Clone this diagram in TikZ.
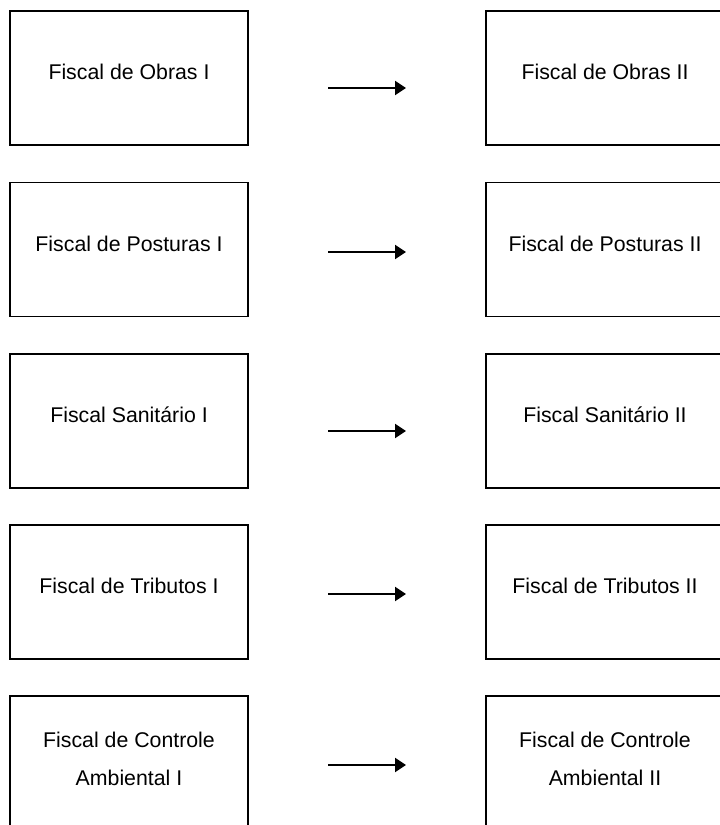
\documentclass[tikz,border=0pt]{standalone}
\usepackage{fontspec}
\setmainfont{Liberation Sans}
\usetikzlibrary{arrows.meta}
\begin{document}
\begin{tikzpicture}[x=1pt,y=-1pt,
  cargo/.style={draw,line width=1.5pt,minimum width=238pt,minimum height=134pt,
    inner sep=0pt,font=\fontsize{21.3}{38}\selectfont,text height=15pt,text depth=12pt},
  cargotwo/.style={draw,line width=1.5pt,minimum width=238pt,minimum height=134pt,
    inner sep=0pt,font=\fontsize{21.3}{38}\selectfont,align=center,text depth=8pt},
  promo/.style={line width=2pt,-{Triangle[length=11pt,width=14pt]}}]
\useasboundingbox (0,0) rectangle (720,825);

% left column (level I) and right column (level II)
\node[cargo] (o1) at (129,78) {Fiscal de Obras I};
\node[cargo] (o2) at (605,78) {Fiscal de Obras II};
\node[cargo] (p1) at (129,249.5) {Fiscal de Posturas I};
\node[cargo] (p2) at (605,249.5) {Fiscal de Posturas II};
\node[cargo] (s1) at (129,421) {Fiscal Sanitário I};
\node[cargo] (s2) at (605,421) {Fiscal Sanitário II};
\node[cargo] (t1) at (129,592) {Fiscal de Tributos I};
\node[cargo] (t2) at (605,592) {Fiscal de Tributos II};
\node[cargotwo] (c1) at (129,763) {Fiscal de Controle\\Ambiental I};
\node[cargotwo] (c2) at (605,763) {Fiscal de Controle\\Ambiental II};

% promotion arrows between the columns
\coordinate (oa) at (328,88);   \coordinate (ob) at (406,88);
\coordinate (pa) at (328,252);  \coordinate (pb) at (406,252);
\coordinate (sa) at (328,431);  \coordinate (sb) at (406,431);
\coordinate (ta) at (328,594);  \coordinate (tb) at (406,594);
\coordinate (ca) at (328,765);  \coordinate (cb) at (406,765);
\draw[promo] (oa) -- (ob);
\draw[promo] (pa) -- (pb);
\draw[promo] (sa) -- (sb);
\draw[promo] (ta) -- (tb);
\draw[promo] (ca) -- (cb);
\end{tikzpicture}
\end{document}
